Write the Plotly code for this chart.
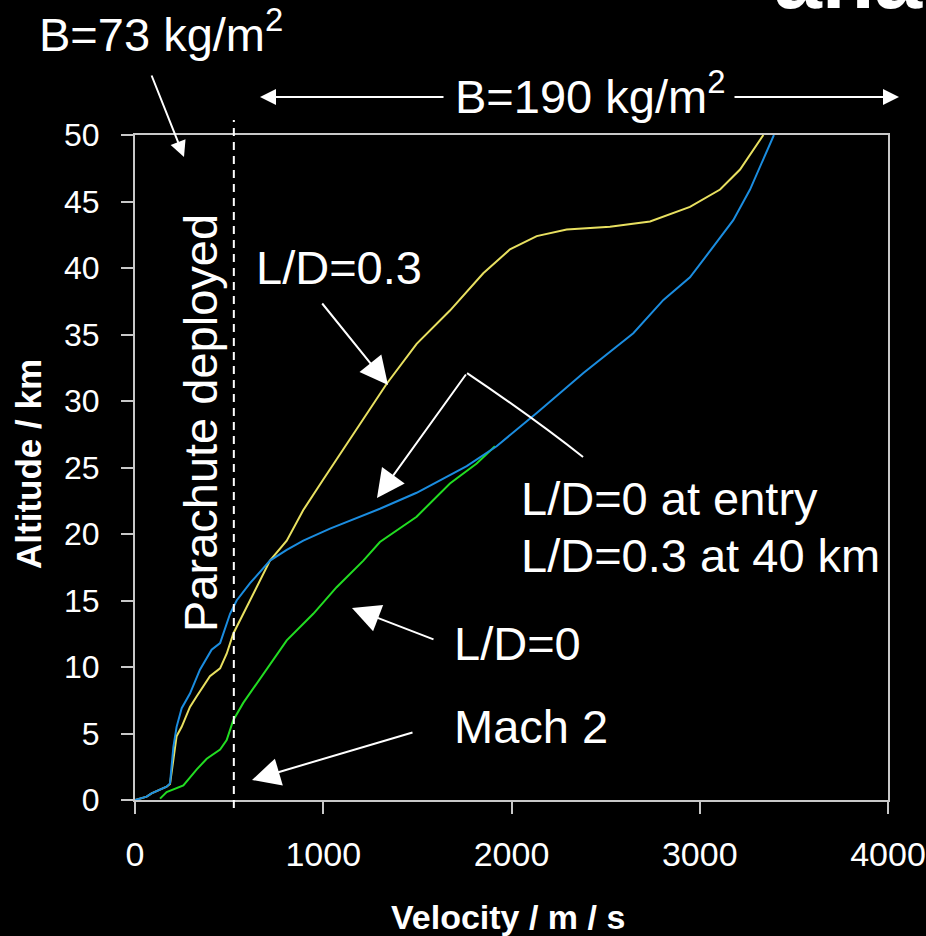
import plotly.graph_objects as go

# Trajectory data: velocity (m/s) vs altitude (km)
lift_switch_v = [0, 62, 88, 168, 186, 195, 204, 221, 248, 292, 345, 407, 452, 505, 540, 611,
                 717, 806, 894, 1036, 1178, 1301, 1496, 1762, 1921, 2134, 2382, 2647, 2807,
                 2948, 3072, 3178, 3267, 3320, 3364, 3394]
lift_switch_alt = [0, 0.25, 0.5, 1.0, 1.25, 2.5, 4.0, 5.5, 6.9, 8.0, 9.8, 11.3, 11.8, 14.0, 15.0,
                   16.3, 18.0, 18.8, 19.5, 20.4, 21.2, 21.9, 23.1, 25.1, 26.6, 29.1, 32.1, 35.1,
                   37.6, 39.3, 41.6, 43.6, 45.9, 47.6, 48.9, 50]

lift03_v = [0, 62, 88, 168, 186, 204, 221, 248, 292, 328, 398, 452, 487, 522, 575, 646, 717, 806,
            894, 1000, 1142, 1337, 1496, 1673, 1850, 1992, 2134, 2293, 2523, 2736, 2948, 3108,
            3214, 3285, 3338]
lift03_alt = [0, 0.25, 0.5, 1.0, 1.2, 3.0, 4.8, 5.5, 7.0, 7.8, 9.3, 9.9, 11.0, 12.5, 14.0, 16.0,
              18.0, 19.5, 21.8, 24.1, 27.1, 31.3, 34.3, 36.8, 39.6, 41.4, 42.4, 42.9, 43.1, 43.5,
              44.6, 45.9, 47.4, 48.9, 50]

lift0_v = [133, 168, 257, 328, 381, 452, 487, 522, 575, 682, 806, 947, 1071, 1213, 1301, 1496,
           1673, 1815, 1912]
lift0_alt = [0.1, 0.6, 1.1, 2.3, 3.1, 3.8, 4.5, 6.0, 7.3, 9.5, 12.0, 14.0, 16.0, 18.0, 19.4,
             21.3, 23.8, 25.3, 26.6]

parachute_v = 525

x_ticks = [0, 1000, 2000, 3000, 4000]
y_ticks = [0, 5, 10, 15, 20, 25, 30, 35, 40, 45, 50]

FONT = "Liberation Sans, Arial, sans-serif"
AXIS_GREY = "#c8c8c8"

W, H = 926, 936
L, R, T, B = 135, 38, 135, 136
PW, PH = W - L - R, H - T - B


def px(xp):
    return (xp - L) / PW


def py(yp):
    return (H - B - yp) / PH


fig = go.Figure()

fig.add_trace(go.Scatter(x=lift03_v, y=lift03_alt, mode="lines",
                         line=dict(color="#e8e060", width=2), name="L/D=0.3"))
fig.add_trace(go.Scatter(x=lift0_v, y=lift0_alt, mode="lines",
                         line=dict(color="#22dd22", width=2), name="L/D=0"))
fig.add_trace(go.Scatter(x=lift_switch_v, y=lift_switch_alt, mode="lines",
                         line=dict(color="#1b8de0", width=2), name="L/D switch"))

# parachute deployment line
fig.add_shape(type="line", xref="x", yref="paper", x0=parachute_v, x1=parachute_v,
              y0=py(808), y1=py(120), line=dict(color="white", width=2, dash="8px,6px"))

# curved leader of the lift-switch label
fig.add_shape(type="path", xref="x", yref="y",
              path="M 2380,25.79 Q 2125,28.65 1764,32.1",
              line=dict(color="white", width=2))

ann = []


def text(s, x, y, size=47, xanchor="left", angle=0, bold=False):
    if bold:
        s = "<b>" + s + "</b>"
    ann.append(dict(text=s, x=px(x), y=py(y), xref="paper", yref="paper",
                    xanchor=xanchor, yanchor="middle", showarrow=False, textangle=angle,
                    font=dict(family=FONT, size=size, color="white")))


def arrow(tip, tail, size=2.8):
    # tip and tail given as page pixel positions
    ann.append(dict(text="", x=px(tip[0]), y=py(tip[1]), xref="paper", yref="paper",
                    ax=tail[0] - tip[0], ay=tail[1] - tip[1], axref="pixel", ayref="pixel",
                    showarrow=True, arrowhead=2, arrowsize=size, arrowwidth=2,
                    arrowcolor="white"))


text("B=73 kg/m<sup>2</sup>", 37, 31)
text("B=190 kg/m<sup>2</sup>", 590, 93, xanchor="center")
text("Parachute deployed", 200, 423, size=47, angle=-90, xanchor="center")
text("L/D=0.3", 254, 267)
text("L/D=0 at entry", 519, 499)
text("L/D=0.3 at 40 km", 519, 555)
text("L/D=0", 452, 643)
text("Mach 2", 452, 726)

# axis titles
text("Velocity / m / s", 508, 917, size=34, xanchor="center", bold=True)
text("Altitude / km", 28, 464, size=35, xanchor="center", angle=-90, bold=True)

arrow((184, 157), (151, 74), size=1.6)
arrow((260, 97), (445, 97), size=1.6)
arrow((899, 97), (733, 97), size=1.6)
arrow((388, 385), (321, 302))
arrow((377, 498), (467, 373))
arrow((352, 608), (435, 640))
arrow((252, 780), (414, 732))

# logo fragment at the top edge
ann.append(dict(text="<b>ana</b>", x=px(772), y=py(-22), xref="paper", yref="paper",
                xanchor="left", yanchor="middle", showarrow=False,
                font=dict(family=FONT, size=86, color="white")))

fig.update_layout(
    width=W, height=H,
    margin=dict(l=L, r=R, t=T, b=B, pad=0, autoexpand=False),
    paper_bgcolor="black", plot_bgcolor="black",
    showlegend=False,
    annotations=ann,
    xaxis=dict(range=[0, 4000], tickvals=x_ticks, ticks="outside", ticklen=12, tickwidth=2,
               tickcolor=AXIS_GREY, showline=True, linecolor=AXIS_GREY, linewidth=2,
               mirror=True, showgrid=False, zeroline=False, ticklabelstandoff=11,
               automargin=False,
               tickfont=dict(family=FONT, size=34, color="white")),
    yaxis=dict(range=[0, 50], tickvals=y_ticks, ticks="outside", ticklen=12, tickwidth=2,
               tickcolor=AXIS_GREY, showline=True, linecolor=AXIS_GREY, linewidth=2,
               mirror=True, showgrid=False, zeroline=False, ticklabelstandoff=15,
               automargin=False,
               tickfont=dict(family=FONT, size=32, color="white")),
)

fig.write_html("out.html")
